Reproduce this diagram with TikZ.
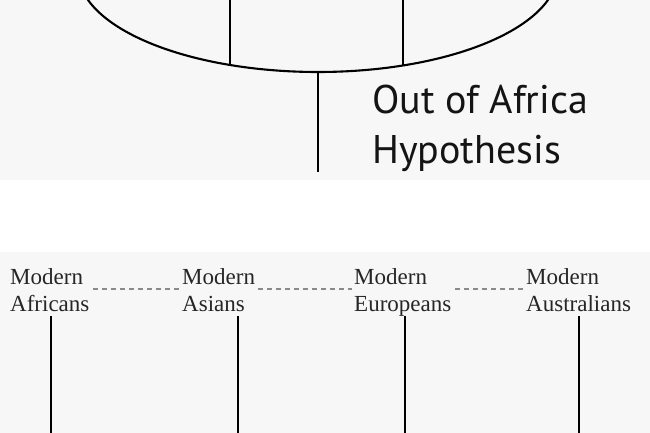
\documentclass[tikz,border=0pt]{standalone}
\usepackage{fontspec}
\setmainfont{Liberation Serif}
\newfontfamily\hypfont{PT Sans}
\definecolor{panelgray}{HTML}{F7F7F7}
\definecolor{dashgray}{HTML}{8A8A8A}
\definecolor{labink}{HTML}{262626}
\begin{document}
\begin{tikzpicture}[x=1pt,y=-1pt,
  stem/.style={line width=2.1pt, black},
  link/.style={line width=1.3pt, dashgray, dash pattern=on 5pt off 4pt},
  lab/.style={anchor=base west, align=left, inner sep=0pt, text=labink,
    font=\fontsize{23}{27}\selectfont},
  title/.style={anchor=base west, align=left, inner sep=0pt, text=black!92,
    font=\hypfont\fontsize{40}{50}\selectfont}]
\useasboundingbox (0,0) rectangle (650,433);
\fill[white] (0,0) rectangle (650,433);
\fill[panelgray] (0,0) rectangle (650,180);
\fill[panelgray] (0,252) rectangle (650,433);
% top panel
\begin{scope}
  \clip (0,0) rectangle (650,180);
  \draw[stem] (318,-29) ellipse [x radius=240, y radius=101];
\end{scope}
\coordinate (ltop) at (230,-2);
\coordinate (lbot) at (230,65);
\coordinate (rtop) at (403,-2);
\coordinate (rbot) at (403,65.4);
\coordinate (root) at (318,72);
\coordinate (rootend) at (318,172);
\draw[stem] (ltop) -- (lbot);
\draw[stem] (rtop) -- (rbot);
\draw[stem] (root) -- (rootend);
\node[title] (oah) at (372,163) {Out of Africa\\Hypothesis};
% bottom panel
\node[lab] (afr) at (10,311) {Modern\\Africans};
\node[lab] (asi) at (182,311) {Modern\\Asians};
\node[lab] (eur) at (354,311) {Modern\\Europeans};
\node[lab] (aus) at (526,311) {Modern\\Australians};
\coordinate (dl) at (0,289);
\draw[link] (93,289) -- (180,289);
\draw[link] (258,289) -- (352,289);
\draw[link] (455,289) -- (523,289);
\coordinate (afrend) at (51,435);
\coordinate (asiend) at (238,435);
\coordinate (eurend) at (405,435);
\coordinate (ausend) at (579,435);
\coordinate (stemtop) at (0,316);
\draw[stem] (afrend |- stemtop) -- (afrend);
\draw[stem] (asiend |- stemtop) -- (asiend);
\draw[stem] (eurend |- stemtop) -- (eurend);
\draw[stem] (ausend |- stemtop) -- (ausend);
\end{tikzpicture}
\end{document}
